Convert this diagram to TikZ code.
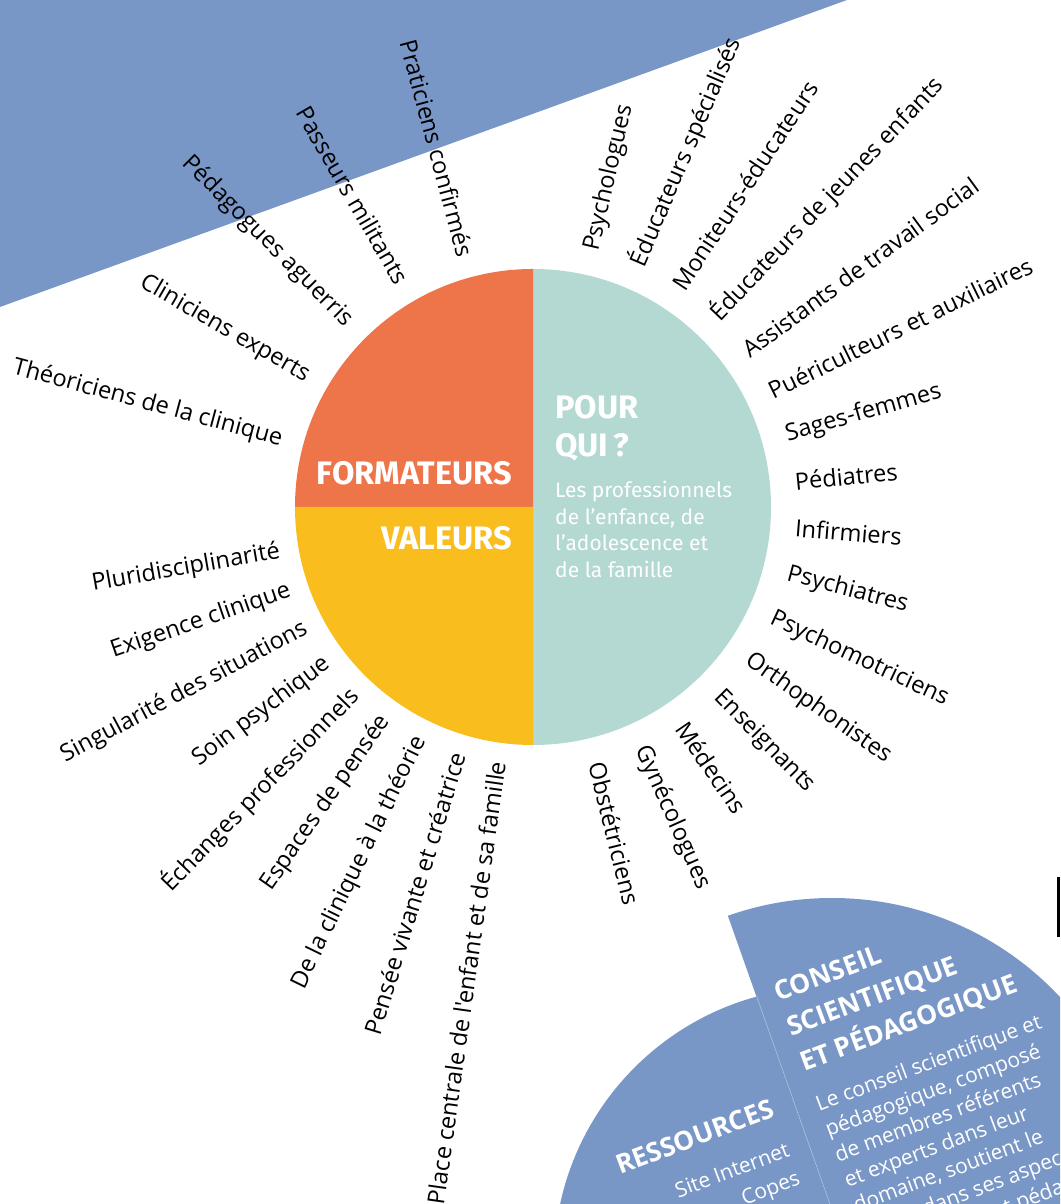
\documentclass[tikz,border=0pt]{standalone}
\usepackage{fontspec}
\setmainfont{Fira Sans}
\newfontfamily\lblfont{Open Sans}
\usetikzlibrary{calc}

\definecolor{bleu}{RGB}{121,151,198}
\definecolor{corail}{RGB}{238,117,74}
\definecolor{jaune}{RGB}{249,189,30}
\definecolor{menthe}{RGB}{180,216,210}

\begin{document}
\begin{tikzpicture}[x=1pt, y=1pt,
        lbl/.style={font=\lblfont\fontsize{23.6}{23.6}\selectfont, inner sep=0pt},
        titre/.style={font=\bfseries\fontsize{32.5}{32.5}\selectfont, text=white, inner sep=0pt},
        corps/.style={font=\fontsize{21}{21}\selectfont, text=white, inner sep=0pt},
        cstitre/.style={font=\lblfont\bfseries\fontsize{26.5}{26.5}\selectfont, text=white, inner sep=0pt},
        cscorps/.style={font=\lblfont\fontsize{21}{21}\selectfont, text=white, inner sep=0pt}]
        \clip (0,0) rectangle (1060,1204);
        \fill[bleu] (0,1204) -- (847,1204) -- (0,897) -- cycle;
        % disque central
        \coordinate (c) at (533,697);
        \fill[menthe] ($(c)+(0,238)$) arc (90:-90:238) -- cycle;
        \fill[corail] (c) -- ($(c)+(0,238)$) arc (90:180:238) -- cycle;
        \fill[jaune] (c) -- ($(c)+(-238,0)$) arc (180:270:238) -- cycle;
        \node[titre, anchor=base east] (form) at (512,719) {FORMATEURS};
        \node[titre, anchor=base east] (val) at (512,654) {VALEURS};
        \node[titre, anchor=base west] (pour) at (555,785) {POUR};
        \node[titre, anchor=base west] (qui) at (555,747) {QUI\,?};
        \foreach \ligne [count=\k from 0] in {Les professionnels, {de l'enfance, de}, l'adolescence et, de la famille}
                \node[corps, anchor=base west] (pro\k) at (555,{706-26.5*\k}) {\ligne};
        % pour qui
        \foreach \txt [count=\i from 0] in {Psychologues, Éducateurs spécialisés, Moniteurs-éducateurs,
                Éducateurs de jeunes enfants, Assistants de travail social, Puériculteurs et auxiliaires,
                Sages-femmes, Pédiatres, Infirmiers, Psychiatres, Psychomotriciens, Orthophonistes,
                Enseignants, Médecins, Gynécologues, Obstétriciens}
                \node[lbl, anchor=west, rotate={77-10.2*\i}] (qui\i) at ($(c)+({77-10.2*\i}:263)$) {\txt};
        % formateurs
        \foreach \txt [count=\i from 0] in {Praticiens confirmés, Passeurs militants, Pédagogues aguerris,
                Cliniciens experts, Théoriciens de la clinique}
                \node[lbl, anchor=east, rotate={105+15*\i-180}] (form\i) at ($(c)+({105+15*\i}:260)$) {\txt};
        % valeurs
        \foreach \txt [count=\i from 0] in {Pluridisciplinarité, Exigence clinique, Singularité des situations,
                Soin psychique, Échanges professionnels, Espaces de pensée, De la clinique à la théorie,
                Pensée vivante et créatrice, Place centrale de l'enfant et de sa famille}
                \node[lbl, anchor=east, rotate={190+9*\i-180}] (val\i) at ($(c)+({190+9*\i}:257)$) {\txt};
        % conseil et ressources
        \begin{scope}
                \clip (677,432) -- (851,-60) -- (1100,-60) -- (1100,432) -- cycle;
                \fill[bleu] (832,-6) circle (312);
        \end{scope}
        \begin{scope}
                \clip (677,432) -- (851,-60) -- (400,-60) -- (400,432) -- cycle;
                \fill[bleu] (829,-58) circle (275);
        \end{scope}
        \draw[white, opacity=0.4, line width=0.4pt] (757,207) -- (830,0);
        \begin{scope}[shift={(778,202)}, rotate=20.5, transform shape]
                \foreach \ligne [count=\k from 0] in {CONSEIL, SCIENTIFIQUE, ET PÉDAGOGIQUE}
                        \node[cstitre, anchor=base west] (cs\k) at (0,{-37*\k}) {\ligne};
                \foreach \ligne [count=\k from 0] in {Le conseil scientifique et, {pédagogique, composé},
                        de membres référents, et experts dans leur, {domaine, soutient le},
                        projet dans ses aspects, scientifiques et pédagogiques}
                        \node[cscorps, anchor=base west] (cb\k) at (0,{-117-27*\k}) {\ligne};
        \end{scope}
        \begin{scope}[shift={(620,29)}, rotate=20.5, transform shape]
                \node[cstitre, anchor=base west] (res) at (0,0) {RESSOURCES};
                \node[cscorps, anchor=base east] (site) at (res.base east |- 0,-42) {Site Internet};
                \node[cscorps, anchor=base east] (copes) at (res.base east |- 0,-72) {Copes};
        \end{scope}
        \fill (1057,267) rectangle (1060,327);
\end{tikzpicture}
\end{document}
